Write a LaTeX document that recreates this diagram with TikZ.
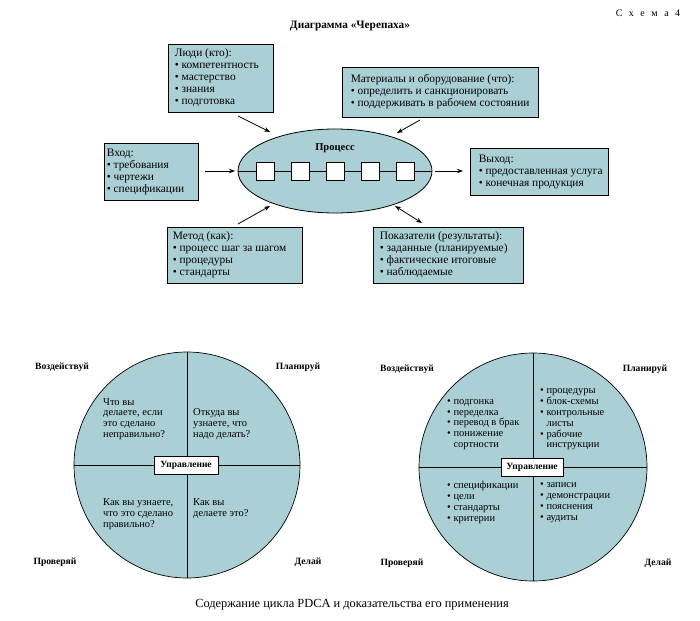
\documentclass[tikz,border=0pt]{standalone}
\usepackage{fontspec}
\setmainfont{Liberation Serif}
\usetikzlibrary{shapes.geometric,arrows.meta}
\definecolor{tfill}{RGB}{170,208,214}
\begin{document}
\begin{tikzpicture}[x=1pt,y=-1pt,
  font=\fontsize{10}{12}\selectfont,
  infobox/.style={draw, fill=tfill, line width=0.8pt, inner sep=0pt},
  boxtext/.style={anchor=west, align=left, inner sep=0pt, font=\fontsize{11.4}{12}\selectfont},
  arr/.style={-{Stealth[length=6pt,width=4.5pt]}, line width=0.8pt},
  darr/.style={{Stealth[length=6pt,width=4.5pt]}-{Stealth[length=6pt,width=4.5pt]}, line width=0.8pt},
  stepsq/.style={draw, fill=white, minimum size=18pt, inner sep=0pt, line width=0.6pt},
  pdca/.style={circle, draw, fill=tfill, inner sep=0pt, line width=0.7pt},
  corner/.style={font=\fontsize{9.6}{10}\selectfont\bfseries},
  ctrl/.style={draw, fill=white, font=\fontsize{9.5}{11}\selectfont\bfseries, minimum height=18pt, inner xsep=4pt, inner ysep=0pt, line width=0.6pt},
  qtext/.style={anchor=west, align=left, inner sep=0pt, font=\fontsize{10.5}{10.8}\selectfont}
]
\useasboundingbox (0,0) rectangle (700,620);

% headings
\node (schema) at (648,13) {С\hspace{6.5pt}х\hspace{6.5pt}е\hspace{6.5pt}м\hspace{6.5pt}а\hspace{6.5pt}4};
\node[font=\fontsize{11.3}{13}\selectfont\bfseries] (title) at (350,26) {Диаграмма «Черепаха»};

% process ellipse
\node[ellipse, draw, fill=tfill, minimum width=194pt, minimum height=84pt, inner sep=0pt, line width=0.8pt] (proc) at (335,171) {};
\draw[line width=0.7pt] (proc.west) -- (proc.east);
\node[stepsq] (s1) at (265,171) {};
\node[stepsq] (s2) at (300,171) {};
\node[stepsq] (s3) at (335,171) {};
\node[stepsq] (s4) at (370,171) {};
\node[stepsq] (s5) at (405,171) {};
\node[font=\fontsize{10.5}{12}\selectfont\bfseries] (proclabel) at (335,148) {Процесс};

% boxes
\node[infobox, minimum width=105pt, minimum height=68pt] (people) at (220.5,78) {};
\node[boxtext] (peoplet) at ([xshift=7pt]people.west)
  {Люди (кто):\\• компетентность\\• мастерство\\• знания\\• подготовка};
\node[infobox, minimum width=196pt, minimum height=50pt] (materials) at (440,92) {};
\node[boxtext] (materialst) at ([xshift=9pt]materials.west)
  {Материалы и оборудование (что):\\• определить и санкционировать\\• поддерживать в рабочем состоянии};
\node[infobox, minimum width=94pt, minimum height=57pt] (input) at (151,171.5) {};
\node[boxtext] (inputt) at ([xshift=3pt]input.west)
  {Вход:\\• требования\\• чертежи\\• спецификации};
\node[infobox, minimum width=138pt, minimum height=47pt] (output) at (539,171.5) {};
\node[boxtext] (outputt) at ([xshift=9pt]output.west)
  {Выход:\\• предоставленная услуга\\• конечная продукция};
\node[infobox, minimum width=135pt, minimum height=56pt] (method) at (234.5,255) {};
\node[boxtext] (methodt) at ([xshift=6pt]method.west)
  {Метод (как):\\• процесс шаг за шагом\\• процедуры\\• стандарты};
\node[infobox, minimum width=150pt, minimum height=56pt] (metrics) at (448,255) {};
\node[boxtext] (metricst) at ([xshift=7pt]metrics.west)
  {Показатели (результаты):\\• заданные (планируемые)\\• фактические итоговые\\• наблюдаемые};

% connector end points
\coordinate (a1s) at (238,116); \coordinate (a1e) at (270,132);
\coordinate (a2s) at (420,120); \coordinate (a2e) at (397,133);
\coordinate (a3s) at (205,171); \coordinate (a3e) at (235,171);
\coordinate (a4s) at (435,171); \coordinate (a4e) at (463,171);
\coordinate (a5s) at (238,224); \coordinate (a5e) at (270,206);
\coordinate (a6s) at (395,206); \coordinate (a6e) at (422,223);
\draw[arr] (a1s) -- (a1e);
\draw[arr] (a2s) -- (a2e);
\draw[arr] (a3s) -- (a3e);
\draw[arr] (a4s) -- (a4e);
\draw[arr] (a5s) -- (a5e);
\draw[darr] (a6s) -- (a6e);

% left PDCA circle
\node[pdca, minimum size=226pt] (lc) at (187,465) {};
\draw[line width=0.7pt] (lc.north) -- (lc.south);
\draw[line width=0.7pt] (lc.west) -- (lc.east);
\node[ctrl, minimum width=64pt] (lctrl) at (186,465) {Управление};
\node[corner] (lact) at (62,367) {Воздействуй};
\node[corner] (lplan) at (298,367) {Планируй};
\node[corner] (lcheck) at (55,562) {Проверяй};
\node[corner] (ldo) at (308,562) {Делай};
\node[qtext] (ltl) at (103,419) {Что вы\\делаете, если\\это сделано\\неправильно?};
\node[qtext] (ltr) at (193,424) {Откуда вы\\узнаете, что\\надо делать?};
\node[qtext] (lbl) at (103,514) {Как вы узнаете,\\что это сделано\\правильно?};
\node[qtext] (lbr) at (193,508.5) {Как вы\\делаете это?};

% right PDCA circle
\node[pdca, minimum size=228pt] (rc) at (533,467) {};
\draw[line width=0.7pt] (rc.north) -- (rc.south);
\draw[line width=0.7pt] (rc.west) -- (rc.east);
\node[ctrl, minimum width=62pt] (rctrl) at (532,467.5) {Управление};
\node[corner] (ract) at (407,369) {Воздействуй};
\node[corner] (rplan) at (645,369) {Планируй};
\node[corner] (rcheck) at (402,563) {Проверяй};
\node[corner] (rdo) at (658,563) {Делай};
\node[qtext] (rtl) at (447,424.5) {• подгонка\\• переделка\\• перевод в брак\\• понижение\\\hphantom{• }сортности};
\node[qtext] (rtr) at (540,419.5) {• процедуры\\• блок-схемы\\• контрольные\\\hphantom{• }листы\\• рабочие\\\hphantom{• }инструкции};
\node[qtext] (rbl) at (447,502.5) {• спецификации\\• цели\\• стандарты\\• критерии};
\node[qtext] (rbr) at (540,502.5) {• записи\\• демонстрации\\• пояснения\\• аудиты};

% caption
\node[font=\fontsize{12.4}{14}\selectfont] (caption) at (352,605) {Содержание цикла PDCA и доказательства его применения};
\end{tikzpicture}
\end{document}
